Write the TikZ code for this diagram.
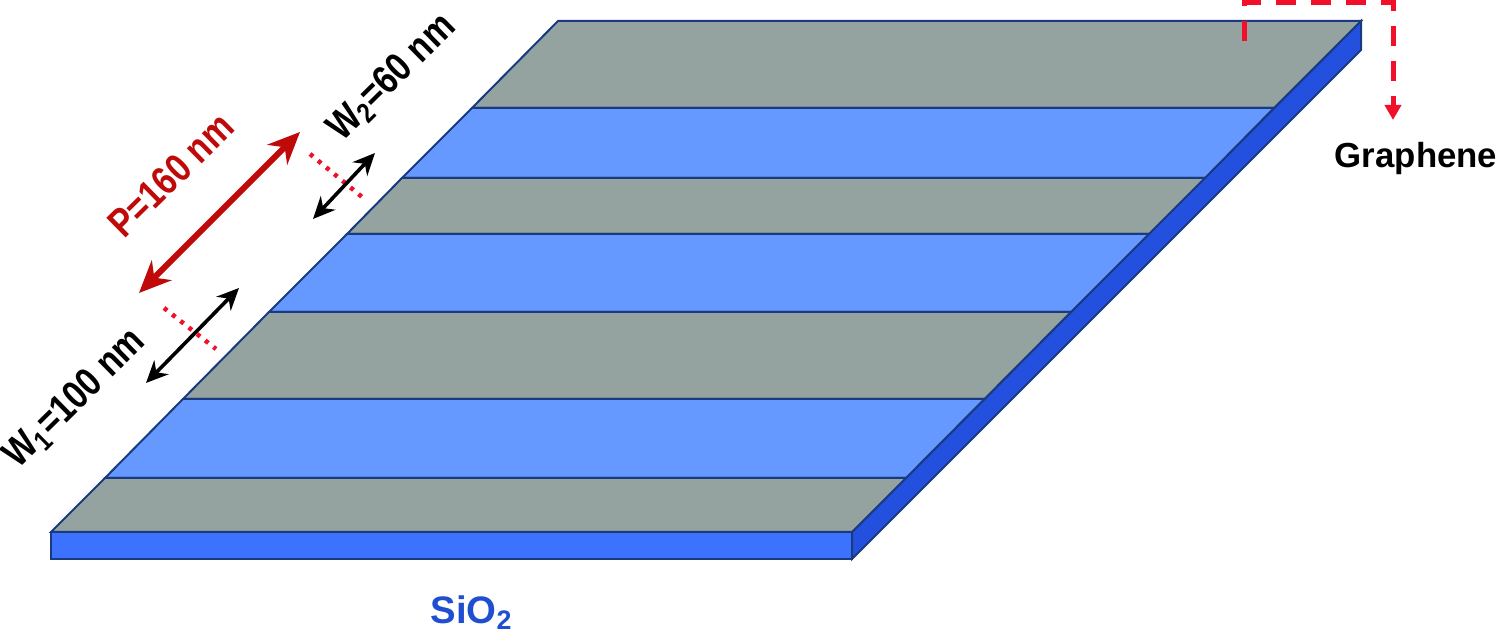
\documentclass[tikz,border=0pt]{standalone}
\usepackage{fontspec}
\setmainfont{Liberation Sans}
\usetikzlibrary{arrows.meta}
\definecolor{stripgray}{HTML}{95A3A0}
\definecolor{stripblue}{HTML}{6699FF}
\definecolor{frontblue}{HTML}{3D72FF}
\definecolor{sideblue}{HTML}{2450E0}
\definecolor{edgeblue}{HTML}{1A3A80}
\definecolor{periodred}{HTML}{C00A0A}
\definecolor{markred}{HTML}{F0102A}
\definecolor{oxideblue}{HTML}{1F4FD0}
\newcommand{\dimtext}[1]{\scalebox{0.83}[1]{#1}}
\tikzset{
	strip/.style={draw=edgeblue, line width=0.02cm},
	widtharrow/.style={line width=0.036cm, {Stealth[length=0.22cm,width=0.2cm]}-{Stealth[length=0.22cm,width=0.2cm]}},
	periodarrow/.style={periodred, line width=0.06cm, {Stealth[length=0.32cm,width=0.28cm]}-{Stealth[length=0.32cm,width=0.28cm]}},
	markline/.style={markred, line width=0.045cm, dash pattern=on 0.04cm off 0.065cm},
	graphenearrow/.style={markred, line width=0.05cm, dash pattern=on 0.2cm off 0.15cm, -{Triangle[length=0.15cm,width=0.16cm]}},
	dimlabel/.style={font=\fontsize{11.4}{13}\selectfont\bfseries, rotate=44.5}
}

\begin{document}
\begin{tikzpicture}
	%%%%% START %%%%%
	\useasboundingbox (0, 0) rectangle (15, 6.33);

	\draw[strip, fill=frontblue] (0.51, 0.74) rectangle (8.52, 1.01);
	\draw[strip, fill=sideblue] (8.52, 0.74) -- (8.52, 1.01) -- (13.61, 6.12) -- (13.61, 5.83) -- cycle;

	\draw[strip, fill=stripgray] (5.58, 6.12) -- (13.61, 6.12) -- (12.74, 5.25) -- (4.72, 5.25) -- cycle;
	\draw[strip, fill=stripblue] (4.72, 5.25) -- (12.74, 5.25) -- (12.05, 4.55) -- (4.02, 4.55) -- cycle;
	\draw[strip, fill=stripgray] (4.02, 4.55) -- (12.05, 4.55) -- (11.49, 3.99) -- (3.47, 3.99) -- cycle;
	\draw[strip, fill=stripblue] (3.47, 3.99) -- (11.49, 3.99) -- (10.71, 3.21) -- (2.69, 3.21) -- cycle;
	\draw[strip, fill=stripgray] (2.69, 3.21) -- (10.71, 3.21) -- (9.845, 2.34) -- (1.83, 2.34) -- cycle;
	\draw[strip, fill=stripblue] (1.83, 2.34) -- (9.845, 2.34) -- (9.06, 1.55) -- (1.05, 1.55) -- cycle;
	\draw[strip, fill=stripgray] (1.05, 1.55) -- (9.06, 1.55) -- (8.52, 1.01) -- (0.51, 1.01) -- cycle;

	\coordinate (periodtop) at (3.00, 5.01);
	\coordinate (periodbot) at (1.39, 3.40);
	\coordinate (wtwotop) at (3.75, 4.80);
	\coordinate (wtwobot) at (3.13, 4.14);
	\coordinate (wonetop) at (2.39, 3.45);
	\coordinate (wonebot) at (1.46, 2.50);
	\coordinate (marktwoa) at (3.10, 4.79);
	\coordinate (marktwob) at (3.62, 4.36);
	\coordinate (markonea) at (1.64, 3.25);
	\coordinate (markoneb) at (2.16, 2.84);

	\draw[markline] (marktwoa) -- (marktwob);
	\draw[markline] (markonea) -- (markoneb);
	\draw[periodarrow] (periodbot) -- (periodtop);
	\draw[widtharrow] (wtwobot) -- (wtwotop);
	\draw[widtharrow] (wonebot) -- (wonetop);

	\node[dimlabel, periodred] (periodlabel) at (1.71, 4.58) {\dimtext{P=160 nm}};
	\node[dimlabel] (wtwolabel) at (3.92, 5.55) {\dimtext{W\textsubscript{2}=60 nm}};
	\node[dimlabel] (wonelabel) at (0.75, 2.34) {\dimtext{W\textsubscript{1}=100 nm}};

	\coordinate (flakestart) at (12.44, 5.92);
	\coordinate (flakeend) at (13.93, 5.13);
	\draw[graphenearrow] (flakestart) |- (13.93, 6.30) -- (flakeend);

	\node[font=\fontsize{9.9}{12}\selectfont\bfseries] (graphenelabel) at (14.16, 4.74) {Graphene};
	\node[font=\fontsize{10.9}{12}\selectfont\bfseries, text=oxideblue] (oxidelabel) at (4.72, 0.20) {SiO\textsubscript{2}};
	%%%%% END %%%%%
\end{tikzpicture}
\end{document}
